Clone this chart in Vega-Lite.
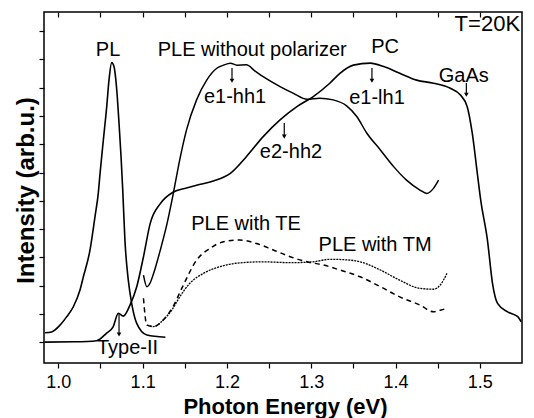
{
  "$schema": "https://vega.github.io/schema/vega-lite/v6.json",
  "width": 478,
  "height": 351,
  "autosize": {"type": "none"},
  "padding": {"left": 44, "top": 12, "right": 12, "bottom": 55},
  "background": "white",
  "config": {
    "view": {"stroke": "black", "strokeWidth": 1.5},
    "axis": {"grid": false, "domain": false, "tickColor": "black", "labelColor": "black", "titleColor": "black", "labelFont": "Liberation Sans", "titleFont": "Liberation Sans"}
  },
  "datasets": {
    "pl": [
      {"x": 0.984, "y": 0.33}, {"x": 0.992, "y": 0.36}, {"x": 1.002, "y": 0.6}, {"x": 1.010, "y": 0.9},
      {"x": 1.0178, "y": 1.25}, {"x": 1.0257, "y": 1.84}, {"x": 1.0297, "y": 2.31}, {"x": 1.0376, "y": 3.26},
      {"x": 1.0435, "y": 4.44}, {"x": 1.0475, "y": 5.3}, {"x": 1.0495, "y": 5.97}, {"x": 1.0534, "y": 7.15},
      {"x": 1.0574, "y": 8.33}, {"x": 1.0601, "y": 9.27}, {"x": 1.0633, "y": 9.89}, {"x": 1.066, "y": 9.75},
      {"x": 1.0693, "y": 8.92}, {"x": 1.072, "y": 7.74}, {"x": 1.0744, "y": 6.56}, {"x": 1.0764, "y": 5.38},
      {"x": 1.079, "y": 3.6}, {"x": 1.083, "y": 2.19}, {"x": 1.087, "y": 1.37}, {"x": 1.093, "y": 0.66},
      {"x": 1.105, "y": 0.25}, {"x": 1.127, "y": 0.17}
    ],
    "pc": [
      {"x": 0.984, "y": 0.0}, {"x": 1.02, "y": 0.01}, {"x": 1.0455, "y": 0.05}, {"x": 1.057, "y": 0.31},
      {"x": 1.065, "y": 0.54}, {"x": 1.0712, "y": 1.02}, {"x": 1.077, "y": 0.92}, {"x": 1.085, "y": 1.31},
      {"x": 1.093, "y": 1.96}, {"x": 1.101, "y": 3.02}, {"x": 1.109, "y": 4.2}, {"x": 1.121, "y": 4.9},
      {"x": 1.136, "y": 5.3}, {"x": 1.152, "y": 5.45}, {"x": 1.164, "y": 5.55}, {"x": 1.184, "y": 5.7},
      {"x": 1.204, "y": 5.97}, {"x": 1.223, "y": 6.56}, {"x": 1.243, "y": 7.27}, {"x": 1.263, "y": 7.86},
      {"x": 1.283, "y": 8.33}, {"x": 1.302, "y": 8.68}, {"x": 1.322, "y": 9.16}, {"x": 1.334, "y": 9.51},
      {"x": 1.350, "y": 9.8}, {"x": 1.370, "y": 9.87}, {"x": 1.386, "y": 9.75}, {"x": 1.405, "y": 9.51},
      {"x": 1.425, "y": 9.27}, {"x": 1.445, "y": 9.16}, {"x": 1.465, "y": 8.98}, {"x": 1.477, "y": 8.74},
      {"x": 1.485, "y": 8.33}, {"x": 1.491, "y": 7.39}, {"x": 1.497, "y": 5.97}, {"x": 1.501, "y": 5.03},
      {"x": 1.509, "y": 3.61}, {"x": 1.515, "y": 2.08}, {"x": 1.521, "y": 1.37}, {"x": 1.533, "y": 1.07},
      {"x": 1.545, "y": 0.9}, {"x": 1.549, "y": 0.72}
    ],
    "ple": [
      {"x": 1.101, "y": 2.37}, {"x": 1.105, "y": 1.96}, {"x": 1.109, "y": 2.1}, {"x": 1.113, "y": 2.43},
      {"x": 1.121, "y": 3.26}, {"x": 1.129, "y": 4.2}, {"x": 1.136, "y": 5.2}, {"x": 1.144, "y": 6.45},
      {"x": 1.152, "y": 7.5}, {"x": 1.164, "y": 8.57}, {"x": 1.176, "y": 9.27}, {"x": 1.188, "y": 9.69},
      {"x": 1.196, "y": 9.8}, {"x": 1.204, "y": 9.87}, {"x": 1.212, "y": 9.8}, {"x": 1.223, "y": 9.81},
      {"x": 1.233, "y": 9.6}, {"x": 1.243, "y": 9.39}, {"x": 1.263, "y": 9.04}, {"x": 1.279, "y": 8.8},
      {"x": 1.295, "y": 8.59}, {"x": 1.310, "y": 8.63}, {"x": 1.326, "y": 8.57}, {"x": 1.342, "y": 8.36},
      {"x": 1.354, "y": 7.98}, {"x": 1.366, "y": 7.39}, {"x": 1.382, "y": 6.8}, {"x": 1.398, "y": 6.2},
      {"x": 1.413, "y": 5.73}, {"x": 1.429, "y": 5.38}, {"x": 1.437, "y": 5.26}, {"x": 1.445, "y": 5.44},
      {"x": 1.451, "y": 5.73}
    ],
    "te": [
      {"x": 1.101, "y": 1.55}, {"x": 1.105, "y": 0.6}, {"x": 1.113, "y": 0.55}, {"x": 1.125, "y": 0.8},
      {"x": 1.135, "y": 1.2}, {"x": 1.148, "y": 2.0}, {"x": 1.164, "y": 2.9}, {"x": 1.180, "y": 3.32},
      {"x": 1.196, "y": 3.55}, {"x": 1.215, "y": 3.61}, {"x": 1.235, "y": 3.49}, {"x": 1.255, "y": 3.26},
      {"x": 1.275, "y": 3.02}, {"x": 1.295, "y": 2.84}, {"x": 1.314, "y": 2.73}, {"x": 1.334, "y": 2.55},
      {"x": 1.358, "y": 2.31}, {"x": 1.382, "y": 1.96}, {"x": 1.405, "y": 1.6}, {"x": 1.429, "y": 1.31},
      {"x": 1.445, "y": 1.07}, {"x": 1.453, "y": 1.13}, {"x": 1.461, "y": 1.19}
    ],
    "tm": [
      {"x": 1.105, "y": 0.6}, {"x": 1.113, "y": 0.55}, {"x": 1.125, "y": 0.8}, {"x": 1.135, "y": 1.15},
      {"x": 1.144, "y": 1.6}, {"x": 1.156, "y": 2.08}, {"x": 1.172, "y": 2.43}, {"x": 1.192, "y": 2.67},
      {"x": 1.211, "y": 2.79}, {"x": 1.243, "y": 2.84}, {"x": 1.275, "y": 2.81}, {"x": 1.302, "y": 2.84},
      {"x": 1.322, "y": 2.93}, {"x": 1.346, "y": 2.9}, {"x": 1.358, "y": 2.84}, {"x": 1.382, "y": 2.55},
      {"x": 1.405, "y": 2.19}, {"x": 1.429, "y": 1.9}, {"x": 1.445, "y": 1.87}, {"x": 1.453, "y": 2.02},
      {"x": 1.461, "y": 2.43}
    ],
    "labels": [
      {"x": 1.059, "y": 10.35, "t": "PL"},
      {"x": 1.230, "y": 10.35, "t": "PLE without polarizer"},
      {"x": 1.3876, "y": 10.45, "t": "PC"},
      {"x": 1.481, "y": 9.42, "t": "GaAs"},
      {"x": 1.2096, "y": 8.68, "t": "e1-hh1"},
      {"x": 1.378, "y": 8.65, "t": "e1-lh1"},
      {"x": 1.276, "y": 6.71, "t": "e2-hh2"},
      {"x": 1.2227, "y": 4.18, "t": "PLE with TE"},
      {"x": 1.3757, "y": 3.43, "t": "PLE with TM"},
      {"x": 1.082, "y": -0.21, "t": "Type-II"}
    ],
    "corner": [{"x": 1.5477, "y": 11.25, "t": "T=20K"}],
    "arrows": [
      {"x": 1.206, "y": 9.7, "y2": 9.25},
      {"x": 1.372, "y": 9.7, "y2": 9.25},
      {"x": 1.268, "y": 7.75, "y2": 7.27},
      {"x": 1.484, "y": 9.17, "y2": 8.75},
      {"x": 1.072, "y": 1.0, "y2": 0.27}
    ]
  },
  "encoding": {
    "x": {"field": "x", "type": "quantitative", "scale": {"domain": [0.983, 1.55], "nice": false, "zero": false}, "axis": null},
    "y": {"field": "y", "type": "quantitative", "scale": {"domain": [-0.74, 11.68], "nice": false, "zero": false},
      "axis": {"values": [0, 1, 2, 3, 4, 5, 6, 7, 8, 9, 10, 11], "labels": false, "tickSize": 5, "tickWidth": 1.2,
        "title": "Intensity (arb.u.)", "titleFontSize": 24, "titleFontWeight": "bold", "titleAngle": -90,
        "titleX": -11, "titleY": 178, "titleAlign": "center", "titleBaseline": "alphabetic"}}
  },
  "layer": [
    {
      "data": {"name": "pl"},
      "mark": {"type": "line", "color": "black", "strokeWidth": 1.6, "interpolate": "monotone"},
      "encoding": {
        "x": {"field": "x", "type": "quantitative", "scale": {"domain": [0.983, 1.55], "nice": false, "zero": false},
          "axis": {"orient": "bottom", "values": [1.0, 1.05, 1.1, 1.15, 1.2, 1.25, 1.3, 1.35, 1.4, 1.45, 1.5],
            "labelExpr": "abs(datum.value*10 - round(datum.value*10)) < 0.01 ? format(datum.value, '.1f') : ''",
            "tickSize": 5, "tickWidth": 1.2, "labelFontSize": 18, "labelPadding": 5,
            "title": "Photon Energy (eV)", "titleFontSize": 22, "titleFontWeight": "bold",
            "titleX": 241, "titleY": 50, "titleAlign": "center", "titleBaseline": "alphabetic"}}
      }
    },
    {
      "data": {"name": "pc"},
      "mark": {"type": "line", "color": "black", "strokeWidth": 1.6, "interpolate": "monotone"},
      "encoding": {
        "x": {"field": "x", "type": "quantitative", "scale": {"domain": [0.983, 1.55], "nice": false, "zero": false},
          "axis": {"orient": "top", "values": [1.0, 1.05, 1.1, 1.15, 1.2, 1.25, 1.3, 1.35, 1.4, 1.45, 1.5],
            "labels": false, "tickSize": -5, "tickWidth": 1.2, "title": null}}
      }
    },
    {
      "data": {"name": "ple"},
      "mark": {"type": "line", "color": "black", "strokeWidth": 1.5, "interpolate": "monotone"},
      "encoding": {}
    },
    {
      "data": {"name": "te"},
      "mark": {"type": "line", "color": "black", "strokeWidth": 1.5, "strokeDash": [5, 4], "interpolate": "monotone"},
      "encoding": {}
    },
    {
      "data": {"name": "tm"},
      "mark": {"type": "line", "color": "black", "strokeWidth": 1.3, "strokeDash": [2, 1], "interpolate": "monotone"},
      "encoding": {}
    },
    {
      "data": {"name": "arrows"},
      "mark": {"type": "rule", "color": "black", "strokeWidth": 1.2},
      "encoding": {"y2": {"field": "y2"}}
    },
    {
      "data": {"name": "arrows"},
      "mark": {"type": "point", "shape": "triangle-down", "filled": true, "color": "black", "size": 22, "opacity": 1},
      "encoding": {"y": {"field": "y2", "type": "quantitative"}}
    },
    {
      "data": {"name": "labels"},
      "mark": {"type": "text", "font": "Liberation Sans", "fontSize": 20, "color": "black", "align": "center", "baseline": "middle"},
      "encoding": {"text": {"field": "t"}}
    },
    {
      "data": {"name": "corner"},
      "mark": {"type": "text", "font": "Liberation Sans", "fontSize": 22, "color": "black", "align": "right", "baseline": "middle"},
      "encoding": {"text": {"field": "t"}}
    }
  ],
  "resolve": {"axis": {"x": "independent"}}
}
